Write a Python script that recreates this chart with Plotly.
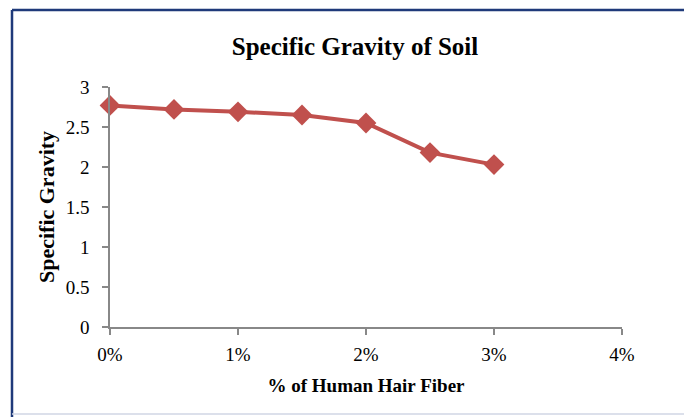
import plotly.graph_objects as go

fiber_pct = [0, 0.5, 1, 1.5, 2, 2.5, 3]
specific_gravity = [2.77, 2.72, 2.69, 2.65, 2.55, 2.18, 2.03]
x_ticks = [0, 1, 2, 3, 4]
x_tick_labels = ["0%", "1%", "2%", "3%", "4%"]
y_ticks = [0, 0.5, 1, 1.5, 2, 2.5, 3]
y_tick_labels = ["0", "0.5", "1", "1.5", "2", "2.5", "3"]

W, H = 684, 417
L, R, T, B = 110, 62, 87, 90
pw, ph = W - L - R, H - T - B

def px(xp):
    return (xp - L) / pw

def py(yp):
    return (H - B - yp) / ph

fig = go.Figure()
fig.add_trace(go.Scatter(
    x=fiber_pct, y=specific_gravity, mode="lines+markers",
    line=dict(color="#C0504D", width=4),
    marker=dict(symbol="diamond", size=16, color="#C0504D"),
    showlegend=False, cliponaxis=False,
))

font_family = "Liberation Serif, Times New Roman, serif"
fig.update_layout(
    width=W, height=H,
    margin=dict(l=L, r=R, t=T, b=B),
    paper_bgcolor="white", plot_bgcolor="white",
    font=dict(family=font_family, color="#000000"),
    title=dict(text="<b>Specific Gravity of Soil</b>", font=dict(size=25, family=font_family),
               x=355 / W, xanchor="center", y=1 - 46 / H, yanchor="middle"),
    xaxis=dict(range=[0, 4], tickvals=x_ticks, ticktext=x_tick_labels,
               showgrid=False, zeroline=False, showline=True, linecolor="#888888", linewidth=1.5,
               ticks="outside", ticklen=6, tickcolor="#888888", tickwidth=1.5,
               tickfont=dict(size=19, family=font_family), ticklabelstandoff=3,
               title=dict(text="<b>% of Human Hair Fiber</b>", font=dict(size=19, family=font_family), standoff=15)),
    yaxis=dict(range=[0, 3], tickvals=y_ticks, ticktext=y_tick_labels,
               showgrid=False, zeroline=False, showline=True, linecolor="#888888", linewidth=1.5,
               ticks="outside", ticklen=6, tickcolor="#888888", tickwidth=1.5,
               tickfont=dict(size=19, family=font_family), ticklabelstandoff=9,
               title=dict(text="<b>Specific Gravity</b>", font=dict(size=22, family=font_family), standoff=5)),
    shapes=[
        dict(type="line", xref="paper", yref="paper", x0=px(12), x1=px(W), y0=py(10), y1=py(10),
             line=dict(color="#1F3A7A", width=2.5)),
        dict(type="line", xref="paper", yref="paper", x0=px(12), x1=px(12), y0=py(10), y1=py(H),
             line=dict(color="#1F3A7A", width=2.5)),
        dict(type="line", xref="paper", yref="paper", x0=px(12), x1=px(W), y0=py(414), y1=py(414),
             line=dict(color="#D0D6E4", width=1.5)),
    ],
)

fig.write_html("out.html")
